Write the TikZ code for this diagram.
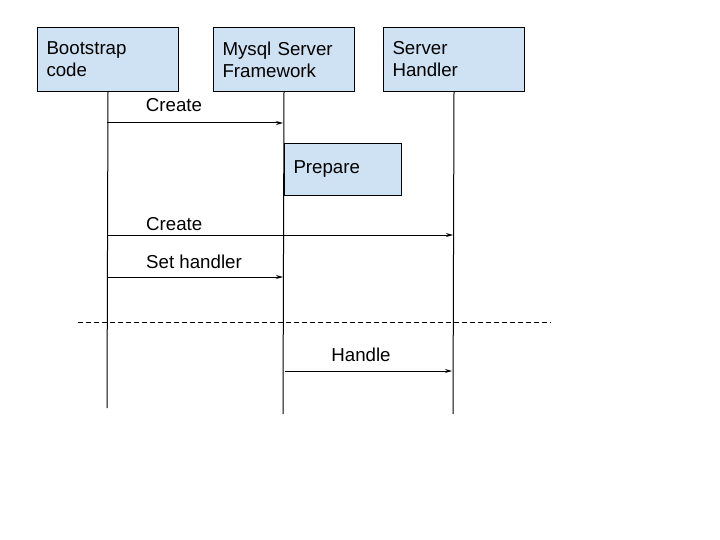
\documentclass[tikz,border=0pt]{standalone}
\usepackage{fontspec}
\setmainfont{Liberation Sans}
\usetikzlibrary{arrows.meta}
\definecolor{boxblue}{HTML}{CFE2F3}
\tikzset{
  actor/.style={draw=black, line width=1pt, fill=boxblue, anchor=north west,
    minimum width=141pt, minimum height=64pt, inner sep=0pt,
    text width=123pt, align=left, font=\fontsize{18.7}{22}\selectfont},
  act/.style={draw=black, line width=1pt, fill=boxblue, anchor=north west,
    minimum width=117pt, minimum height=52pt, inner sep=0pt,
    text width=99pt, align=left, font=\fontsize{18.7}{22}\selectfont},
  life/.style={line width=1pt},
  msg/.style={line width=1pt, -{Stealth[length=7pt,width=4pt]}},
  lbl/.style={inner sep=0pt, font=\fontsize{18.7}{22}\selectfont},
  sep/.style={line width=1pt, dash pattern=on 5pt off 3pt}
}
\begin{document}
\begin{tikzpicture}[x=1pt,y=-1pt]
\useasboundingbox (0,0) rectangle (720,540);
\node[actor] (boot) at (37,27) {Bootstrap\\code};
\node[actor] (mysql) at (213,27) {Mysql Server\\Framework};
\node[actor] (handler) at (383,27) {Server\\Handler};
\coordinate (bootend) at (107,408);
\coordinate (mysqlend) at (283,414);
\coordinate (handend) at (453,414);
\draw[life] (boot.south) -- (bootend);
\draw[life] (mysql.south) -- (mysqlend);
\draw[life] (handler.south) -- (handend);
\node[act] (prep) at (284,143) {Prepare};
% messages
\coordinate (b1) at (107,123); \coordinate (m1) at (283,123);
\draw[msg] (b1) -- (m1);
\node[lbl] (l1) at (174,105) {Create};
\coordinate (b2) at (107,235); \coordinate (h2) at (453,235);
\draw[msg] (b2) -- (h2);
\node[lbl, anchor=west] (l2) at (146,224) {Create};
\coordinate (b3) at (107,277); \coordinate (m3) at (283,277);
\draw[msg] (b3) -- (m3);
\node[lbl, anchor=west] (l3) at (146,262) {Set handler};
\coordinate (s1) at (78,322); \coordinate (s2) at (551,322);
\draw[sep] (s1) -- (s2);
\coordinate (m4) at (285,371); \coordinate (h4) at (452,371);
\draw[msg] (m4) -- (h4);
\node[lbl] (l4) at (361,355) {Handle};
\end{tikzpicture}
\end{document}
